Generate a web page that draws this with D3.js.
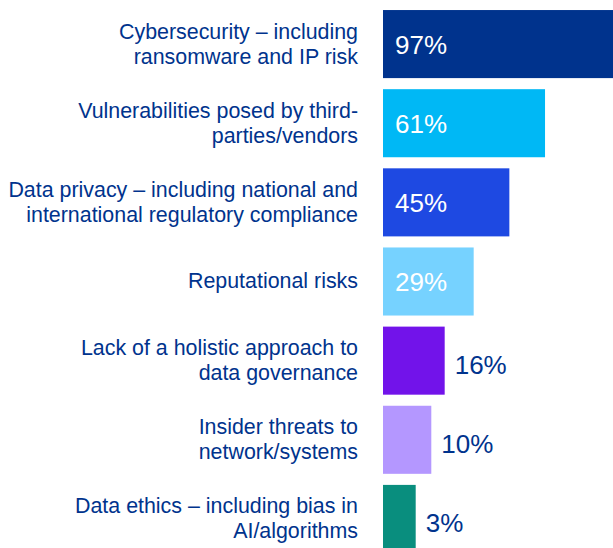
<!DOCTYPE html>
<html>
<head>
<meta charset="utf-8">
<script src="https://cdn.jsdelivr.net/npm/d3@7"></script>
<style>
  body { margin: 0; background: #fff; }
  text { font-family: "Liberation Sans", Arial, sans-serif; }
</style>
</head>
<body>
<div id="chart"></div>
<script>
// data
const categories = [
  ["Cybersecurity \u2013 including", "ransomware and IP risk"],
  ["Vulnerabilities posed by third-", "parties/vendors"],
  ["Data privacy \u2013 including national and", "international regulatory compliance"],
  ["Reputational risks"],
  ["Lack of a holistic approach to", "data governance"],
  ["Insider threats to", "network/systems"],
  ["Data ethics \u2013 including bias in", "AI/algorithms"]
];
const values = [97, 61, 45, 29, 16, 10, 3];
const barColors = ["#00338D", "#00B8F5", "#1E49E2", "#76D2FF", "#7213EA", "#B497FF", "#098E7E"];
const insideLabel = [true, true, true, true, false, false, false];

const width = 613, height = 548;
const barX = 383;

const svg = d3.select('#chart').append('svg')
    .attr('width', width)
    .attr('height', height);

const yScale = d3.scaleBand()
    .domain(d3.range(values.length))
    .range([4.5, 558.5])
    .paddingInner(0.14)
    .paddingOuter(0.07);

const xScale = d3.scaleLinear()
    .domain([0, 100])
    .range([26, 249]);

const rows = svg.selectAll('.row')
    .data(values)
    .enter()
    .append('g')
    .attr('class', 'row')
    .attr('transform', (d, i) => 'translate(0,' + yScale(i) + ')');

rows.append('rect')
    .attr('x', barX)
    .attr('y', 0)
    .attr('width', d => xScale(d))
    .attr('height', yScale.bandwidth())
    .style('fill', (d, i) => barColors[i]);

// value labels
rows.append('text')
    .attr('x', (d, i) => insideLabel[i] ? barX + 12 : barX + xScale(d) + 10)
    .attr('y', (d, i) => yScale.bandwidth() / 2 + (insideLabel[i] ? 10 : 13))
    .style('font-size', '26px')
    .style('fill', (d, i) => insideLabel[i] ? '#fff' : '#00338D')
    .text(d => d + '%');

// category labels
const cats = rows.append('text')
    .attr('text-anchor', 'end')
    .style('font-size', '21.4px')
    .style('fill', '#00338D');

cats.selectAll('tspan')
    .data((d, i) => categories[i].map((t, k, arr) => ({t: t, k: k, n: arr.length})))
    .enter()
    .append('tspan')
    .attr('x', 358)
    .attr('y', l => yScale.bandwidth() / 2 + 7 + (l.k - (l.n - 1) / 2) * 25)
    .text(l => l.t);
</script>
</body>
</html>
